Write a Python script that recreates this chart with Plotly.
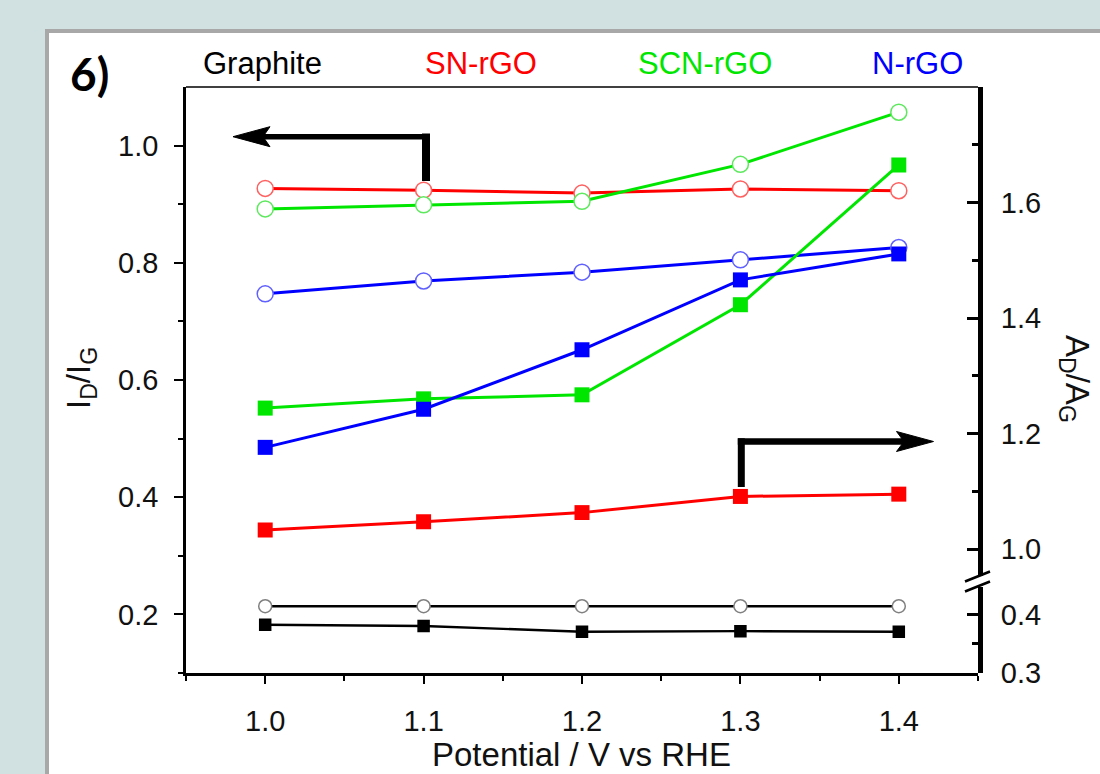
import plotly.graph_objects as go

# ---- data -------------------------------------------------------------
potential = [1.0, 1.1, 1.2, 1.3, 1.4]

# I_D/I_G  (open circles, left axis)
idig_graphite = [0.214, 0.214, 0.214, 0.214, 0.214]
idig_sn = [0.927, 0.924, 0.919, 0.926, 0.923]
idig_scn = [0.892, 0.899, 0.905, 0.968, 1.057]
idig_n = [0.747, 0.769, 0.784, 0.805, 0.826]

# A_D/A_G  (filled squares, right axis)
adag_graphite = [0.383, 0.381, 0.371, 0.372, 0.371]
adag_sn = [1.033, 1.047, 1.063, 1.091, 1.095]
adag_scn = [1.244, 1.260, 1.267, 1.423, 1.665]
adag_n = [1.176, 1.242, 1.345, 1.466, 1.511]

series_names = ["Graphite", "SN-rGO", "SCN-rGO", "N-rGO"]
x_ticks = [1.0, 1.1, 1.2, 1.3, 1.4]
left_ticks = [0.2, 0.4, 0.6, 0.8, 1.0]
right_upper_ticks = [1.0, 1.2, 1.4, 1.6]
right_lower_ticks = [0.3, 0.4]

# ---- geometry ---------------------------------------------------------
W, H = 1100, 774
ML, MR, MT, MB = 186, 122, 87, 101
PW, PH = W - ML - MR, H - MT - MB

X_RANGE = [0.95, 1.45]
Y_RANGE = [0.1, 1.1]
Y2_RANGE = [0.954, 1.8]
Y3_RANGE = [0.2995, 0.448]
RIGHT_PX_PER_UNIT = 577.5
y2_bottom = 1 - (Y2_RANGE[1] - Y2_RANGE[0]) * RIGHT_PX_PER_UNIT / PH
y3_top = (Y3_RANGE[1] - Y3_RANGE[0]) * RIGHT_PX_PER_UNIT / PH


def pxx(p):
    return (p - ML) / PW


def pxy(p):
    return (H - MB - p) / PH


FONT = "Liberation Sans, Arial, sans-serif"
RED, GREEN, BLUE, BLACK = "#ff0000", "#00e600", "#0000ff", "#000000"
colors = [BLACK, RED, GREEN, BLUE]
circle_edges = ["#808080", "#ff6060", "#5ee85e", "#6060ff"]

fig = go.Figure()

# filled squares: A_D/A_G
fig.add_trace(go.Scatter(
    x=potential, y=adag_graphite, mode="lines+markers", name="Graphite",
    line=dict(color=BLACK, width=2.4),
    marker=dict(symbol="square", size=12.5, color=BLACK),
    xaxis="x", yaxis="y3", showlegend=False))
for name, vals, col in zip(series_names[1:], [adag_sn, adag_scn, adag_n],
                           colors[1:]):
    fig.add_trace(go.Scatter(
        x=potential, y=vals, mode="lines+markers", name=name,
        line=dict(color=col, width=3),
        marker=dict(symbol="square", size=15, color=col),
        xaxis="x", yaxis="y2", showlegend=False))

# open circles: I_D/I_G
for name, vals, col, edge in zip(series_names,
                                 [idig_graphite, idig_sn, idig_scn, idig_n],
                                 colors, circle_edges):
    big = name != "Graphite"
    fig.add_trace(go.Scatter(
        x=potential, y=vals, mode="lines+markers", name=name,
        line=dict(color=col, width=3 if big else 2.6),
        marker=dict(symbol="circle", size=16 if big else 13, color="white",
                    line=dict(color=edge, width=1.5)),
        xaxis="x", yaxis="y", showlegend=False))

tickfont = dict(family=FONT, size=29, color="#111111")

fig.update_layout(
    width=W, height=H,
    margin=dict(l=ML, r=MR, t=MT, b=MB, pad=0),
    paper_bgcolor="#d1e1e1",
    plot_bgcolor="rgba(0,0,0,0)",
    showlegend=False,
    xaxis=dict(
        range=X_RANGE, domain=[0, 1], anchor="y",
        showgrid=False, zeroline=False,
        showline=True, linecolor=BLACK, linewidth=2.6,
        tickmode="array", tickvals=x_ticks, tickformat=".1f",
        ticks="outside", ticklen=8, tickwidth=2.4, tickcolor=BLACK,
        ticklabelstandoff=12, tickfont=tickfont,
        minor=dict(tickmode="array",
                   tickvals=[0.95, 1.05, 1.15, 1.25, 1.35, 1.45],
                   ticks="outside", ticklen=5, tickwidth=2.4,
                   tickcolor=BLACK, showgrid=False),
    ),
    yaxis=dict(
        range=Y_RANGE, domain=[0, 1], anchor="x", side="left",
        showgrid=False, zeroline=False,
        showline=True, linecolor=BLACK, linewidth=2.6,
        tickmode="array", tickvals=left_ticks, tickformat=".1f",
        ticks="outside", ticklen=9, tickwidth=2.4, tickcolor=BLACK,
        ticklabelstandoff=10, tickfont=tickfont,
        minor=dict(tickmode="array", tickvals=[0.1, 0.3, 0.5, 0.7, 0.9],
                   ticks="outside", ticklen=5, tickwidth=2.4,
                   tickcolor=BLACK, showgrid=False),
    ),
    yaxis2=dict(
        range=Y2_RANGE, domain=[y2_bottom, 1], anchor="x", side="right",
        showgrid=False, zeroline=False,
        showline=True, linecolor=BLACK, linewidth=5,
        tickmode="array", tickvals=right_upper_ticks, tickformat=".1f",
        ticks="inside", ticklen=11, tickwidth=2.6, tickcolor=BLACK,
        ticklabelstandoff=12, tickfont=tickfont,
        minor=dict(tickmode="array", tickvals=[1.1, 1.3, 1.5, 1.7],
                   ticks="inside", ticklen=6, tickwidth=2.6,
                   tickcolor=BLACK, showgrid=False),
    ),
    yaxis3=dict(
        range=Y3_RANGE, domain=[0, y3_top], anchor="x", side="right",
        showgrid=False, zeroline=False,
        showline=True, linecolor=BLACK, linewidth=5,
        tickmode="array", tickvals=right_lower_ticks, tickformat=".1f",
        ticks="inside", ticklen=11, tickwidth=2.6, tickcolor=BLACK,
        ticklabelstandoff=12, tickfont=tickfont,
        minor=dict(tickmode="array", tickvals=[0.35],
                   ticks="inside", ticklen=6, tickwidth=2.6,
                   tickcolor=BLACK, showgrid=False),
    ),
)

shapes = []
# white panel with grey frame behind the whole chart
shapes.append(dict(type="rect", xref="paper", yref="paper", layer="below",
                   x0=pxx(47), x1=pxx(1160), y0=pxy(830), y1=pxy(31),
                   fillcolor="white", line=dict(color="#a8a8a8", width=4)))
# thin top frame line
shapes.append(dict(type="line", xref="paper", yref="paper",
                   x0=0, x1=1, y0=1, y1=1,
                   line=dict(color=BLACK, width=1.3)))
# axis-break marks on the right axis
for (xa, ya, xb, yb) in [(965, 581.5, 990, 571.5), (965, 591.5, 990, 581.5)]:
    shapes.append(dict(type="line", xref="paper", yref="paper",
                       x0=pxx(xa), y0=pxy(ya), x1=pxx(xb), y1=pxy(yb),
                       line=dict(color=BLACK, width=2.6)))


def arrow_head(tip_x, tip_y, back_x, half_w, notch_x):
    pts = [(tip_x, tip_y), (back_x, tip_y - half_w), (notch_x, tip_y),
           (back_x, tip_y + half_w)]
    d = "M " + " L ".join(f"{pxx(a):.5f},{pxy(b):.5f}" for a, b in pts) + " Z"
    return dict(type="path", xref="paper", yref="paper", path=d,
                fillcolor=BLACK, line=dict(color=BLACK, width=1))


# left-pointing arrow (circles -> left axis)
shapes.append(dict(type="line", xref="paper", yref="paper",
                   x0=pxx(426), x1=pxx(426), y0=pxy(181), y1=pxy(133.5),
                   line=dict(color=BLACK, width=8)))
shapes.append(dict(type="line", xref="paper", yref="paper",
                   x0=pxx(430), x1=pxx(262), y0=pxy(136.7), y1=pxy(136.7),
                   line=dict(color=BLACK, width=5.5)))
shapes.append(arrow_head(233, 136.7, 270, 10, 263))

# right-pointing arrow (squares -> right axis)
shapes.append(dict(type="line", xref="paper", yref="paper",
                   x0=pxx(741.3), x1=pxx(741.3), y0=pxy(487), y1=pxy(438.3),
                   line=dict(color=BLACK, width=7)))
shapes.append(dict(type="line", xref="paper", yref="paper",
                   x0=pxx(737.8), x1=pxx(904), y0=pxy(441.5), y1=pxy(441.5),
                   line=dict(color=BLACK, width=6.5)))
shapes.append(arrow_head(933.5, 441.5, 896.5, 10, 904))

fig.update_layout(shapes=shapes)

annotations = []
# series labels across the top
label_x = [262.5, 481, 705, 917.5]
for name, col, lx in zip(series_names, colors, label_x):
    annotations.append(dict(text=name, xref="paper", yref="paper",
                            x=pxx(lx), y=pxy(64), xanchor="center",
                            yanchor="middle", showarrow=False,
                            font=dict(family=FONT, size=31, color=col)))
# panel number
annotations.append(dict(text="6)", xref="paper", yref="paper",
                        x=pxx(89), y=pxy(73), xanchor="center",
                        yanchor="middle", showarrow=False,
                        font=dict(family="Lato, sans-serif", size=46,
                                  color=BLACK, weight="bold")))
# axis titles
title_font = dict(family=FONT, size=33, color="#111111")
annotations.append(dict(text="Potential / V vs RHE", xref="paper",
                        yref="paper", x=pxx(581), y=pxy(754),
                        xanchor="center", yanchor="middle", showarrow=False,
                        font=title_font))
annotations.append(dict(text="I<sub>D</sub>/I<sub>G</sub>", xref="paper",
                        yref="paper", x=pxx(81), y=pxy(378),
                        xanchor="center", yanchor="middle", showarrow=False,
                        textangle=-90, font=title_font))
annotations.append(dict(text="A<sub>D</sub>/A<sub>G</sub>", xref="paper",
                        yref="paper", x=pxx(1075), y=pxy(379),
                        xanchor="center", yanchor="middle", showarrow=False,
                        textangle=90, font=title_font))
fig.update_layout(annotations=annotations)

fig.write_html("out.html")
